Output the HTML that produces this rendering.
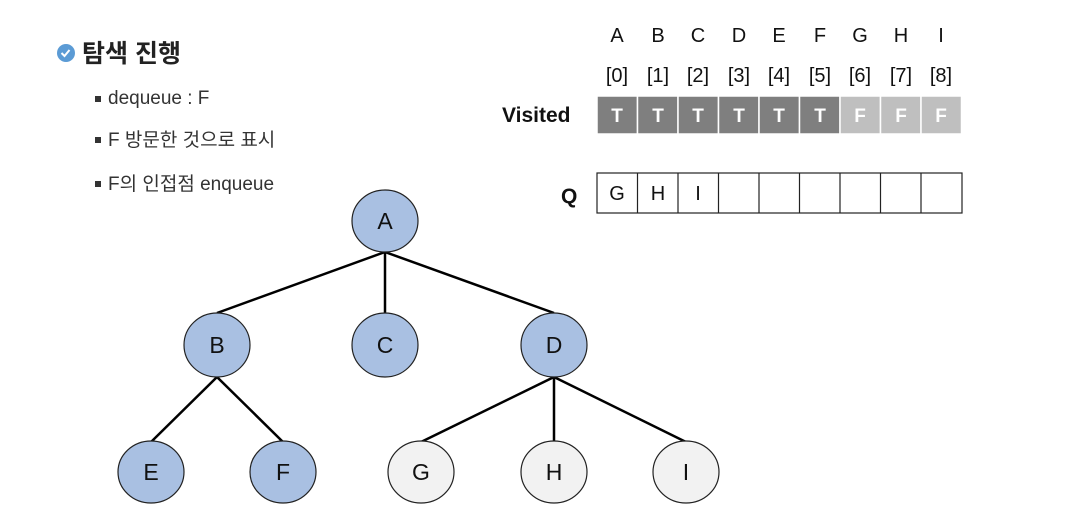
<!DOCTYPE html>
<html><head><meta charset="utf-8"><style>
html,body{margin:0;padding:0;background:#fff;}
svg{display:block}
text{font-family:"Liberation Sans","Noto Sans CJK KR",sans-serif;}
</style></head><body>
<svg width="1080" height="518" viewBox="0 0 1080 518" xmlns="http://www.w3.org/2000/svg">
<circle cx="66" cy="53" r="9" fill="#5b9bd5"/>
<path d="M61.5 53 l3 3 l5 -6" stroke="#fff" stroke-width="2" fill="none"/>
<text x="82" y="62" font-size="25" font-weight="bold" fill="#222">탐색 진행</text>
<g font-size="19" fill="#333">
<rect x="95" y="96" width="6" height="6" fill="#333"/><text x="108" y="104">dequeue : F</text>
<rect x="95" y="137" width="6" height="6" fill="#333"/><text x="108" y="146">F 방문한 것으로 표시</text>
<rect x="95" y="181" width="6" height="6" fill="#333"/><text x="108" y="190">F의 인접점 enqueue</text>
</g>
<g font-size="20" fill="#111" text-anchor="middle">
<text x="617" y="42">A</text><text x="658" y="42">B</text><text x="698" y="42">C</text><text x="739" y="42">D</text><text x="779" y="42">E</text><text x="820" y="42">F</text><text x="860" y="42">G</text><text x="901" y="42">H</text><text x="941" y="42">I</text>
<text x="617" y="82">[0]</text><text x="658" y="82">[1]</text><text x="698" y="82">[2]</text><text x="739" y="82">[3]</text><text x="779" y="82">[4]</text><text x="820" y="82">[5]</text><text x="860" y="82">[6]</text><text x="901" y="82">[7]</text><text x="941" y="82">[8]</text>
</g>
<text x="502" y="122" font-size="21" font-weight="bold" fill="#111">Visited</text>
<text x="561" y="203" font-size="21" font-weight="bold" fill="#111">Q</text>
<g stroke="#fff" stroke-width="1.5">
<rect x="597" y="96" width="40.5" height="38" fill="#7f7f7f"/><rect x="637.5" y="96" width="40.5" height="38" fill="#7f7f7f"/><rect x="678" y="96" width="40.5" height="38" fill="#7f7f7f"/><rect x="718.5" y="96" width="40.5" height="38" fill="#7f7f7f"/><rect x="759" y="96" width="40.5" height="38" fill="#7f7f7f"/><rect x="799.5" y="96" width="40.5" height="38" fill="#7f7f7f"/>
<rect x="840" y="96" width="40.5" height="38" fill="#bfbfbf"/><rect x="880.5" y="96" width="40.5" height="38" fill="#bfbfbf"/><rect x="921" y="96" width="40.5" height="38" fill="#bfbfbf"/>
</g>
<g font-size="19" font-weight="bold" fill="#fff" text-anchor="middle">
<text x="617" y="122">T</text><text x="658" y="122">T</text><text x="698" y="122">T</text><text x="739" y="122">T</text><text x="779" y="122">T</text><text x="820" y="122">T</text><text x="860" y="122">F</text><text x="901" y="122">F</text><text x="941" y="122">F</text>
</g>
<g stroke="#222" stroke-width="1.2" fill="#fff">
<rect x="597" y="173" width="365" height="40"/>
<path d="M637.5 173v40M678 173v40M718.5 173v40M759 173v40M799.5 173v40M840 173v40M880.5 173v40M921 173v40"/>
</g>
<g font-size="20" fill="#111" text-anchor="middle">
<text x="617" y="200">G</text><text x="658" y="200">H</text><text x="698" y="200">I</text>
</g>
<g stroke="#000" stroke-width="2.5">
<line x1="385" y1="252" x2="217" y2="313"/><line x1="385" y1="252" x2="385" y2="313"/><line x1="385" y1="252" x2="554" y2="313"/>
<line x1="217" y1="377" x2="151" y2="442"/><line x1="217" y1="377" x2="283" y2="442"/>
<line x1="554" y1="377" x2="421" y2="442"/><line x1="554" y1="377" x2="554" y2="442"/><line x1="554" y1="377" x2="686" y2="442"/>
</g>
<g stroke="#222" stroke-width="1.2">
<ellipse cx="385" cy="221" rx="33" ry="31" fill="#a9c0e2"/>
<ellipse cx="217" cy="345" rx="33" ry="32" fill="#a9c0e2"/>
<ellipse cx="385" cy="345" rx="33" ry="32" fill="#a9c0e2"/>
<ellipse cx="554" cy="345" rx="33" ry="32" fill="#a9c0e2"/>
<ellipse cx="151" cy="472" rx="33" ry="31" fill="#a9c0e2"/>
<ellipse cx="283" cy="472" rx="33" ry="31" fill="#a9c0e2"/>
<ellipse cx="421" cy="472" rx="33" ry="31" fill="#f2f2f2"/>
<ellipse cx="554" cy="472" rx="33" ry="31" fill="#f2f2f2"/>
<ellipse cx="686" cy="472" rx="33" ry="31" fill="#f2f2f2"/>
</g>
<g font-size="23" fill="#111" text-anchor="middle">
<text x="385" y="229">A</text><text x="217" y="353">B</text><text x="385" y="353">C</text><text x="554" y="353">D</text>
<text x="151" y="480">E</text><text x="283" y="480">F</text><text x="421" y="480">G</text><text x="554" y="480">H</text><text x="686" y="480">I</text>
</g>
</svg>
</body></html>
